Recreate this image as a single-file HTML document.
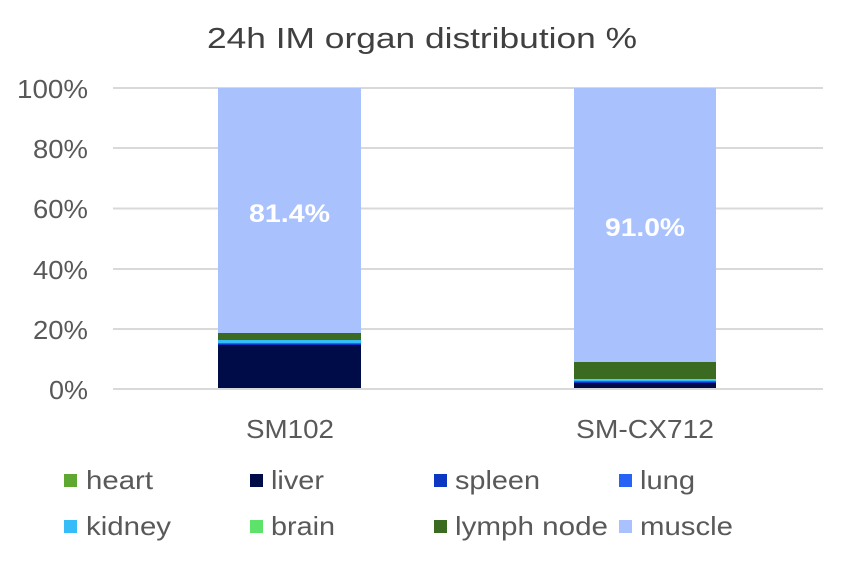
<!DOCTYPE html>
<html><head><style>
body{margin:0;background:#fff;}
text{font-family:"Liberation Sans",sans-serif;}
</style></head><body>
<svg width="845" height="560" xmlns="http://www.w3.org/2000/svg">
<rect width="845" height="560" fill="#fff"/>
<text x="207" y="48" font-size="29" fill="#404040" textLength="430" lengthAdjust="spacingAndGlyphs">24h IM organ distribution %</text>
<g stroke="#d9d9d9" stroke-width="2">
<line x1="113" y1="88" x2="823" y2="88"/>
<line x1="113" y1="148" x2="823" y2="148"/>
<line x1="113" y1="208.5" x2="823" y2="208.5"/>
<line x1="113" y1="269" x2="823" y2="269"/>
<line x1="113" y1="329" x2="823" y2="329"/>
<line x1="113" y1="389" x2="823" y2="389"/>
</g>
<g font-size="26" fill="#595959" lengthAdjust="spacingAndGlyphs">
<text x="17" y="98" textLength="71" lengthAdjust="spacingAndGlyphs">100%</text>
<text x="33" y="158" textLength="55" lengthAdjust="spacingAndGlyphs">80%</text>
<text x="33" y="218" textLength="55" lengthAdjust="spacingAndGlyphs">60%</text>
<text x="33" y="279" textLength="55" lengthAdjust="spacingAndGlyphs">40%</text>
<text x="33" y="339" textLength="55" lengthAdjust="spacingAndGlyphs">20%</text>
<text x="49" y="399" textLength="39" lengthAdjust="spacingAndGlyphs">0%</text>
</g>
<rect x="218" y="88" width="143" height="245" fill="#a9c1fd"/>
<rect x="218" y="333" width="143" height="7" fill="#3b6b20"/>
<rect x="218" y="340" width="143" height="3" fill="#36bdf7"/>
<rect x="218" y="343" width="143" height="1" fill="#2764f5"/>
<rect x="218" y="344" width="143" height="1" fill="#0c37c2"/>
<rect x="218" y="345" width="143" height="43" fill="#000c47"/>
<rect x="574" y="88" width="142" height="274" fill="#a9c1fd"/>
<rect x="574" y="362" width="142" height="17" fill="#3b6b20"/>
<rect x="574" y="379" width="142" height="1" fill="#5de36a"/>
<rect x="574" y="380" width="142" height="1" fill="#36bdf7"/>
<rect x="574" y="381" width="142" height="1" fill="#2764f5"/>
<rect x="574" y="382" width="142" height="1" fill="#0c37c2"/>
<rect x="574" y="383" width="142" height="5" fill="#000c47"/>
<text x="249" y="222" font-size="25" font-weight="bold" fill="#fff" textLength="81" lengthAdjust="spacingAndGlyphs">81.4%</text>
<text x="605" y="236" font-size="25" font-weight="bold" fill="#fff" textLength="80" lengthAdjust="spacingAndGlyphs">91.0%</text>
<g font-size="26" fill="#595959">
<text x="246" y="438" textLength="88" lengthAdjust="spacingAndGlyphs">SM102</text>
<text x="576" y="438" textLength="138" lengthAdjust="spacingAndGlyphs">SM-CX712</text>
</g>
<g font-size="26" fill="#595959">
<rect x="64" y="474" width="13" height="13" fill="#5ea832"/><text x="86" y="489" textLength="67" lengthAdjust="spacingAndGlyphs">heart</text>
<rect x="250" y="474" width="13" height="13" fill="#000c47"/><text x="271" y="489" textLength="53" lengthAdjust="spacingAndGlyphs">liver</text>
<rect x="434" y="474" width="13" height="13" fill="#0c37c2"/><text x="455" y="489" textLength="85" lengthAdjust="spacingAndGlyphs">spleen</text>
<rect x="619" y="474" width="13" height="13" fill="#2764f5"/><text x="640" y="489" textLength="55" lengthAdjust="spacingAndGlyphs">lung</text>
<rect x="64" y="520" width="13" height="13" fill="#36bdf7"/><text x="86" y="535" textLength="85" lengthAdjust="spacingAndGlyphs">kidney</text>
<rect x="250" y="520" width="13" height="13" fill="#5de36a"/><text x="271" y="535" textLength="64" lengthAdjust="spacingAndGlyphs">brain</text>
<rect x="434" y="520" width="13" height="13" fill="#3b6b20"/><text x="455" y="535" textLength="153" lengthAdjust="spacingAndGlyphs">lymph node</text>
<rect x="619" y="520" width="13" height="13" fill="#a9c1fd"/><text x="640" y="535" textLength="93" lengthAdjust="spacingAndGlyphs">muscle</text>
</g>
</svg>
</body></html>
